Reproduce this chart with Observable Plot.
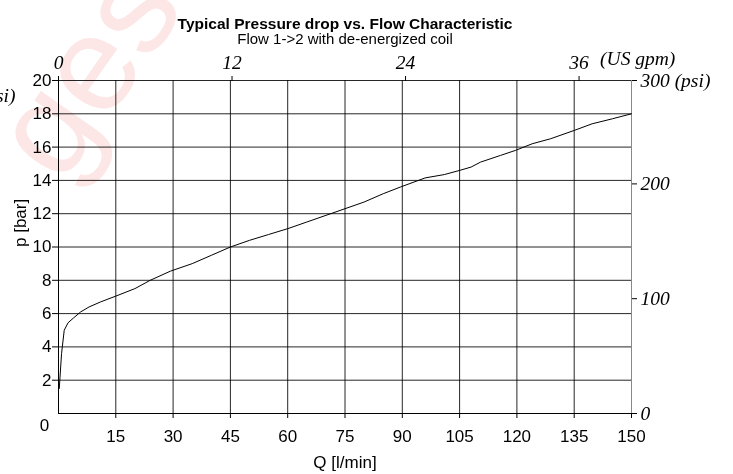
<!DOCTYPE html>
<html>
<head>
<meta charset="utf-8">
<script src="https://cdn.jsdelivr.net/npm/d3@7"></script>
<script src="https://cdn.jsdelivr.net/npm/@observablehq/plot@0.6"></script>
<style>
  html, body { margin: 0; padding: 0; background: #fff; }
  #wrap { position: relative; width: 733px; height: 474px; overflow: hidden; }
  #wm { position: absolute; left: -40px; top: 115px; font: 135px "Liberation Sans", Arial, sans-serif;
        color: #fde6e6; transform: rotate(-55deg); transform-origin: left top; mix-blend-mode: multiply;
        pointer-events: none; white-space: nowrap; }
</style>
</head>
<body>
<div id="wrap"><div id="chart"></div><div id="wm">ges</div></div>
<script>
const title = "Typical Pressure drop vs. Flow Characteristic";
const subtitle = "Flow 1->2 with de-energized coil";
const xLabel = "Q [l/min]";
const yLabel = "p [bar]";

// flow Q [l/min] and pressure drop p [bar]
const flowQ = [0.2, 0.8, 1.5, 2.5, 4, 5.8, 8, 11, 15, 20, 24, 29.3, 35, 40, 45, 50, 55, 60, 65, 70, 75, 80, 85, 89.5, 96, 101, 105, 108, 110.5, 115.7, 119.6, 124, 128.8, 135, 139.7, 145, 150];
const pressure = [1.5, 3.6, 5.0, 5.45, 5.75, 6.1, 6.4, 6.7, 7.05, 7.5, 8.0, 8.55, 9.0, 9.5, 10.0, 10.4, 10.75, 11.1, 11.5, 11.9, 12.3, 12.7, 13.2, 13.6, 14.15, 14.35, 14.6, 14.8, 15.1, 15.5, 15.8, 16.2, 16.5, 17.0, 17.4, 17.7, 18.0];

const xTicks = [15, 30, 45, 60, 75, 90, 105, 120, 135, 150];
const yTicks = [2, 4, 6, 8, 10, 12, 14, 16, 18, 20];
const gpmTicks = [0, 12, 24, 36];
const psiTicks = [0, 100, 200, 300];

const data = flowQ.map((q, i) => ({Q: q, p: pressure[i]}));
const gpmPos = gpmTicks.map(g => g * 3.78541);
const gpmMap = new Map(gpmPos.map((v, i) => [v, String(gpmTicks[i])]));
const psiPos = psiTicks.map(s => Math.min(20, s / 14.5038));
const psiMap = new Map(psiPos.map((v, i) => [v, psiTicks[i] === 300 ? "300 (psi)" : String(psiTicks[i])]));

const serif = "'Liberation Serif', 'Times New Roman', serif";
const sans = "'Liberation Sans', Arial, sans-serif";

const chart = Plot.plot({
  width: 733,
  height: 474,
  marginTop: 80,
  marginBottom: 61,
  marginLeft: 58,
  marginRight: 102,
  x: {domain: [0, 150]},
  y: {domain: [0, 20]},
  style: {fontFamily: sans, background: "transparent", overflow: "visible"},
  marks: [
    Plot.gridX(xTicks.slice(0, -1), {stroke: "#000", strokeOpacity: 0.85}),
    Plot.gridY(yTicks, {stroke: "#000", strokeOpacity: 0.85}),
    Plot.ruleX([150], {stroke: "#888"}),
    Plot.ruleX([0], {stroke: "#000"}),
    Plot.ruleY([0], {stroke: "#000"}),
    Plot.line(data, {x: "Q", y: "p", stroke: "#000", strokeWidth: 1}),
    Plot.axisX(xTicks, {anchor: "bottom", tickSize: 5, tickPadding: 11, fontSize: 17, label: null, letterSpacing: -1.2}),
    Plot.axisY(yTicks, {anchor: "left", tickSize: 6, tickPadding: 1, fontSize: 17, label: null, letterSpacing: -1.2}),
    Plot.text(["0"], {x: 0, y: 0, dx: -14, dy: 12, fontSize: 17}),
    Plot.axisX(gpmPos, {anchor: "top", tickSize: 5, tickPadding: 7, fontSize: 19.5, fontFamily: serif, fontStyle: "italic", label: null, tickFormat: d => gpmMap.get(d)}),
    Plot.text(["(US gpm)"], {x: gpmPos[3], y: 20, dx: 21, dy: -22, textAnchor: "start", fontSize: 19.5, fontFamily: serif, fontStyle: "italic"}),
    Plot.axisY(psiPos, {anchor: "right", tickSize: 5, tickPadding: 4, fontSize: 19.5, fontFamily: serif, fontStyle: "italic", label: null, tickFormat: d => psiMap.get(d)}),
    Plot.text(["(psi)"], {frameAnchor: "top-left", dx: -43, dy: 8, textAnchor: "end", fontSize: 19.5, fontFamily: serif, fontStyle: "italic"}),
    Plot.text([title], {frameAnchor: "top", dy: -63, fontWeight: "bold", fontSize: 15.5}),
    Plot.text([subtitle], {frameAnchor: "top", dy: -47, fontSize: 15}),
    Plot.text([xLabel], {frameAnchor: "bottom", dy: 54, fontSize: 17, letterSpacing: -1.2}),
    Plot.text([yLabel], {frameAnchor: "left", dx: -38, rotate: -90, fontSize: 17})
  ]
});
document.getElementById("chart").appendChild(chart);
</script>
</body>
</html>
